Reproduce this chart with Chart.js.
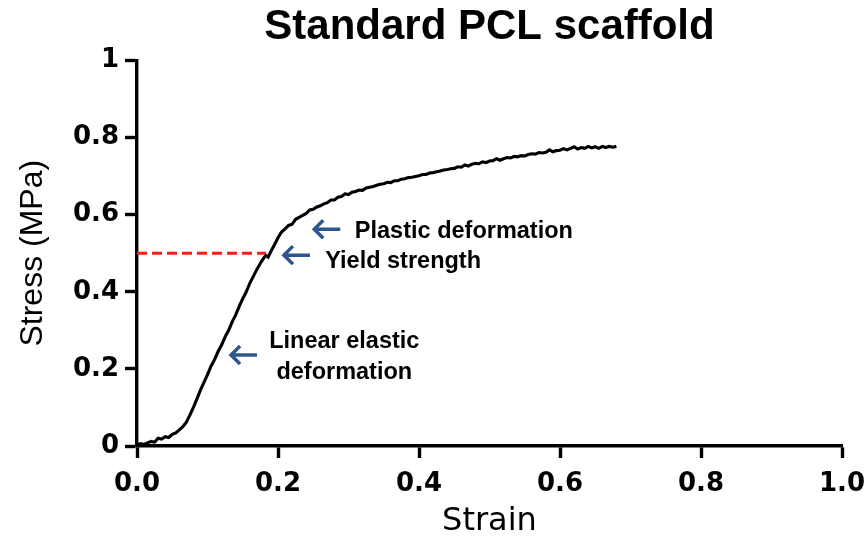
<!DOCTYPE html>
<html><head><meta charset="utf-8">
<script src="https://cdn.jsdelivr.net/npm/chart.js@4.4.0/dist/chart.umd.min.js"></script>
<style>html,body{margin:0;padding:0;background:#fff}</style>
</head><body>
<canvas id="c" width="867" height="537"></canvas>
<script>
// ---- data ----
const strain = [0.000,0.005,0.010,0.015,0.020,0.025,0.030,0.035,0.040,0.045,0.050,0.055,0.060,0.065,0.070,0.075,0.080,0.085,0.090,0.095,
0.100,0.105,0.110,0.115,0.120,0.125,0.130,0.135,0.140,0.145,0.150,0.155,0.160,0.165,0.170,0.175,0.180,0.183,0.186,0.190,0.195,
0.200,0.205,0.210,0.215,0.220,0.225,0.230,0.235,0.240,0.245,0.250,0.255,0.260,0.265,0.270,0.275,0.280,0.285,0.290,0.295,
0.300,0.305,0.310,0.315,0.320,0.325,0.330,0.335,0.340,0.345,0.350,0.355,0.360,0.365,0.370,0.375,0.380,0.385,0.390,0.395,
0.400,0.405,0.410,0.415,0.420,0.425,0.430,0.435,0.440,0.445,0.450,0.455,0.460,0.465,0.470,0.475,0.480,0.485,0.490,0.495,
0.500,0.505,0.510,0.515,0.520,0.525,0.530,0.535,0.540,0.545,0.550,0.555,0.560,0.565,0.570,0.575,0.580,0.585,0.590,0.595,
0.600,0.605,0.610,0.615,0.620,0.625,0.630,0.635,0.640,0.645,0.650,0.655,0.660,0.665,0.670,0.675,0.680];
const stress = [0.002,0.006,0.004,0.008,0.012,0.010,0.020,0.018,0.024,0.022,0.030,0.034,0.042,0.050,0.062,0.080,0.100,0.122,0.145,0.165,
0.185,0.207,0.224,0.245,0.262,0.283,0.300,0.322,0.340,0.362,0.382,0.400,0.422,0.440,0.458,0.474,0.488,0.494,0.490,0.505,0.522,
0.540,0.555,0.563,0.572,0.575,0.588,0.593,0.598,0.603,0.612,0.614,0.620,0.623,0.628,0.631,0.638,0.638,0.645,0.647,0.654,
0.652,0.658,0.660,0.664,0.663,0.669,0.671,0.673,0.676,0.679,0.680,0.684,0.683,0.688,0.688,0.692,0.693,0.696,0.697,0.699,
0.701,0.704,0.704,0.708,0.709,0.711,0.713,0.716,0.717,0.719,0.720,0.724,0.723,0.729,0.726,0.731,0.733,0.732,0.737,0.735,
0.739,0.740,0.745,0.741,0.745,0.748,0.747,0.751,0.750,0.753,0.752,0.756,0.758,0.757,0.761,0.760,0.762,0.768,0.763,0.766,
0.767,0.771,0.768,0.772,0.776,0.770,0.774,0.772,0.777,0.773,0.776,0.772,0.777,0.774,0.777,0.775,0.777];
const yieldStrain = [0, 0.183];
const yieldStress = [0.5, 0.5];
const xTickValues = [0, 0.2, 0.4, 0.6, 0.8, 1.0];
const yTickValues = [0, 0.2, 0.4, 0.6, 0.8, 1.0];
const xTickLabels = ['0.0', '0.2', '0.4', '0.6', '0.8', '1.0'];
const yTickLabels = ['0', '0.2', '0.4', '0.6', '0.8', '1'];

// annotation notes (arrow tip in data units)
const notes = [
  {lines: ['Plastic deformation'], tip: [0.250, 0.562], text: [0.309, 0.556], align: 'left'},
  {lines: ['Yield strength'], tip: [0.207, 0.495], text: [0.267, 0.478], align: 'left'},
  {lines: ['Linear elastic', 'deformation'], tip: [0.132, 0.236], text: [0.294, 0.270], align: 'center'}
];

const FONT = '"Liberation Sans", Arial, sans-serif';
const TICKFONT = '"DejaVu Sans", sans-serif';

const notePlugin = {
  id: 'notes',
  afterLayout(chart) {
    if (chart.titleBlock) {
      chart.titleBlock.left = chart.chartArea.left;
      chart.titleBlock.right = chart.chartArea.right;
    }
  },
  afterDatasetsDraw(chart) {
    const {ctx, scales: {x, y}} = chart;
    ctx.save();
    notes.forEach(n => {
      const tx = x.getPixelForValue(n.tip[0]);
      const ty = y.getPixelForValue(n.tip[1]);
      ctx.strokeStyle = '#2e5590';
      ctx.lineWidth = 3.5;
      ctx.lineCap = 'butt';
      ctx.beginPath();
      ctx.moveTo(tx + 1, ty);
      ctx.lineTo(tx + 27, ty);
      ctx.moveTo(tx + 10, ty - 9);
      ctx.lineTo(tx + 1, ty);
      ctx.lineTo(tx + 10, ty + 9);
      ctx.stroke();
      ctx.fillStyle = '#000';
      ctx.font = 'bold 23.5px ' + FONT;
      ctx.textBaseline = 'middle';
      ctx.textAlign = n.align;
      const lx = x.getPixelForValue(n.text[0]);
      const ly = y.getPixelForValue(n.text[1]);
      n.lines.forEach((s, i) => ctx.fillText(s, lx, ly + i * 31));
    });
    ctx.restore();
  }
};

new Chart(document.getElementById('c'), {
  type: 'line',
  data: {
    datasets: [
      {
        data: strain.map((v, i) => ({x: v, y: stress[i]})),
        borderColor: '#000', borderWidth: 3.1, pointRadius: 0, tension: 0, fill: false
      },
      {
        data: yieldStrain.map((v, i) => ({x: v, y: yieldStress[i]})),
        borderColor: '#ff1a1a', borderWidth: 3, borderDash: [10, 5], pointRadius: 0, fill: false
      }
    ]
  },
  options: {
    responsive: false, animation: false, devicePixelRatio: 1,
    layout: {padding: {left: 0, right: 25, top: 0, bottom: 0}},
    plugins: {
      legend: {display: false}, tooltip: {enabled: false},
      title: {display: true, text: 'Standard PCL scaffold', color: '#000',
        font: {family: FONT, size: 42, weight: 'bold'}, padding: {top: 2, bottom: 8}}
    },
    scales: {
      x: {
        type: 'linear', min: 0, max: 1,
        afterBuildTicks: s => { s.ticks = xTickValues.map(v => ({value: v})); },
        afterFit: s => { s.height = 91; s.paddingRight = 0; s.paddingLeft = 0; },
        border: {display: true, color: '#000', width: 3.4},
        grid: {drawOnChartArea: false, drawTicks: true, tickLength: 12, tickWidth: 3.4, tickColor: '#000'},
        ticks: {color: '#000', padding: 11, maxRotation: 0, font: {family: TICKFONT, size: 26, weight: 'bold'},
          callback: (v, i) => xTickLabels[i]},
        title: {display: true, text: 'Strain', color: '#000', font: {family: TICKFONT, size: 32}, padding: {top: 0, bottom: -4}}
      },
      y: {
        type: 'linear', min: 0, max: 1,
        afterBuildTicks: s => { s.ticks = yTickValues.map(v => ({value: v})); },
        afterFit: s => { s.width = 137; s.paddingTop = 0; s.paddingBottom = 0; },
        border: {display: true, color: '#000', width: 3.4},
        grid: {drawOnChartArea: false, drawTicks: true, tickLength: 12, tickWidth: 3.4, tickColor: '#000'},
        ticks: {color: '#000', padding: 6, font: {family: TICKFONT, size: 26, weight: 'bold'},
          callback: (v, i) => yTickLabels[i]},
        title: {display: true, text: 'Stress (MPa)', color: '#000', font: {family: FONT, size: 32}, padding: {top: 14, bottom: 0}}
      }
    }
  },
  plugins: [notePlugin]
});
</script>
</body></html>
